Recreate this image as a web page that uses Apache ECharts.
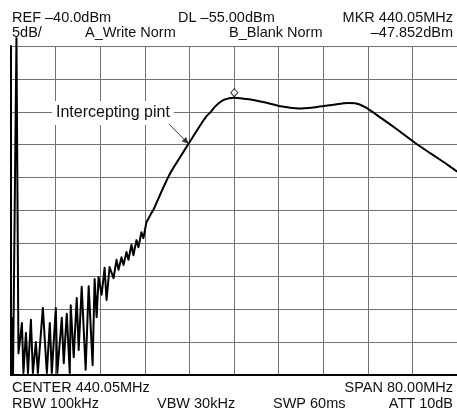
<!DOCTYPE html>
<html>
<head>
<meta charset="utf-8">
<style>
  html, body { margin: 0; padding: 0; background: #fff; }
  #chart { width: 457px; height: 415px; }
</style>
<script src="https://cdn.jsdelivr.net/npm/echarts@6/dist/echarts.min.js"></script>
</head>
<body>
<div id="chart"></div>
<script>
// 频率 MHz / 电平 dBm
// 低端噪声 + 馈通尖峰（折线）
const noiseFreq = [400.18, 400.36, 400.98, 401.34, 401.96, 402.23, 402.68, 403.04, 403.57, 403.93,
  404.46, 404.82, 405.71, 406.43, 406.96, 407.32, 408.04, 408.30, 409.11, 409.46,
  410.00, 410.54, 410.71, 411.25, 411.79, 412.14, 412.68, 413.39, 413.93, 414.64,
  415.00, 415.36, 415.71, 416.25, 416.79, 417.14, 417.68, 418.39, 418.93, 419.29,
  419.82, 420.18, 420.71, 421.07, 421.61, 421.96, 422.50, 422.86, 423.39, 423.75,
  424.29, 424.64, 425.18, 425.54, 426.07];
const noiseLevel = [-81.2, -90.0, -38.8, -86.7, -82.1, -89.7, -83.6, -89.7, -81.6, -89.7,
  -85.0, -89.7, -79.8, -89.7, -82.1, -89.7, -79.8, -89.7, -81.3, -88.2,
  -80.7, -89.7, -79.4, -87.3, -78.3, -86.2, -76.6, -89.2, -76.5, -88.5,
  -75.4, -81.2, -75.1, -77.8, -73.7, -78.6, -73.6, -75.3, -72.5, -74.0,
  -72.1, -73.3, -71.3, -72.5, -70.2, -71.8, -69.5, -70.6, -68.3, -69.2,
  -66.8, -67.1, -65.4, -64.9, -63.9];
// 滤波器响应（平滑段）
const traceFreq = [426.07, 428.39, 430.18, 431.96, 433.75, 434.95, 435.84, 436.73, 437.91, 439.11,
  440.05, 442.68, 445.66, 448.63, 451.61, 454.59, 457.55, 460.54, 461.73, 463.52,
  466.48, 469.46, 472.45, 475.41, 478.39, 480.05];
const traceLevel = [-63.9, -59.6, -57.1, -54.7, -52.3, -50.8, -50.0, -49.1, -48.3, -47.95,
  -47.85, -48.1, -48.6, -49.2, -49.5, -49.3, -48.97, -48.66, -48.7, -49.3,
  -51.0, -52.8, -54.7, -56.4, -58.1, -59.1];
// 标记点 / 交点注释
const marker = [440.05, -47.852];
const intercept = [431.9, -54.9];

const headerLeft = ['REF \u201340.0dBm', '5dB/'];
const headerMid = [['DL \u201355.00dBm'], ['A_Write Norm', 'B_Blank Norm']];
const headerRight = ['MKR 440.05MHz', '\u201347.852dBm'];
const footer = [['CENTER 440.05MHz', 'SPAN 80.00MHz'], ['RBW 100kHz', 'VBW 30kHz', 'SWP 60ms', 'ATT 10dB']];

const dom = document.getElementById('chart');
const myChart = echarts.init(dom, null, { renderer: 'canvas' });
const font = '"Liberation Sans", Arial, Helvetica, sans-serif';

function txt (s, x, y, align) {
  return {
    type: 'text', x: x, y: y, z: 20,
    style: { text: s, fill: '#111', font: '14.5px ' + font, textAlign: align || 'left', textVerticalAlign: 'middle' }
  };
}

const option = {
  animation: false,
  grid: { left: 11, top: 46, width: 448, height: 329, show: false },
  xAxis: {
    type: 'value', min: 400, max: 480, interval: 8,
    axisLine: { show: true, onZero: false, lineStyle: { color: '#000', width: 2 } },
    axisTick: { show: false }, axisLabel: { show: false },
    splitLine: { show: true, lineStyle: { color: '#707070', width: 1 } }
  },
  yAxis: {
    type: 'value', min: -90, max: -40, interval: 5,
    axisLine: { show: true, onZero: false, lineStyle: { color: '#000', width: 2 } },
    axisTick: { show: false }, axisLabel: { show: false },
    splitLine: { show: true, lineStyle: { color: '#707070', width: 1 } }
  },
  series: [
    {
      type: 'line', clip: false, showSymbol: false, symbol: 'none',
      lineStyle: { color: '#000', width: 2, join: 'round' },
      data: noiseFreq.map((f, i) => [f, noiseLevel[i]])
    },
    {
      type: 'line', clip: false, showSymbol: false, symbol: 'none', smooth: 0.3,
      lineStyle: { color: '#000', width: 2 },
      data: traceFreq.map((f, i) => [f, traceLevel[i]])
    },
    {
      type: 'scatter', symbol: 'diamond', symbolSize: [7, 8], symbolOffset: [0, -5],
      itemStyle: { color: '#fff', borderColor: '#000', borderWidth: 1 },
      data: [marker]
    }
  ]
};
myChart.setOption(option);

// 文字 + 注释箭头
const p = myChart.convertToPixel({ gridIndex: 0 }, intercept);
const sx = p[0] - 20, sy = p[1] - 20;
const ang = Math.atan2(p[1] - sy, p[0] - sx);
const ah = 7, aw = 3;
const bx = p[0] - ah * Math.cos(ang), by = p[1] - ah * Math.sin(ang);
myChart.setOption({
  graphic: [
    txt(headerLeft[0], 12, 18), txt(headerLeft[1], 12, 33),
    txt(headerMid[0][0], 178, 18),
    txt(headerMid[1][0], 85, 33), txt(headerMid[1][1], 229, 33),
    txt(headerRight[0], 453, 18, 'right'), txt(headerRight[1], 453, 33, 'right'),
    txt(footer[0][0], 12, 388), txt(footer[0][1], 453, 388, 'right'),
    txt(footer[1][0], 12, 404), txt(footer[1][1], 157, 404),
    txt(footer[1][2], 273, 404), txt(footer[1][3], 453, 404, 'right'),
    {
      type: 'text', x: 52, y: 113, z: 20,
      style: {
        text: 'Intercepting pint', fill: '#111', font: '16px ' + font,
        textVerticalAlign: 'middle', backgroundColor: '#fff', padding: [4, 4, 4, 4]
      }
    },
    {
      type: 'line', z: 20,
      shape: { x1: sx, y1: sy, x2: bx, y2: by },
      style: { stroke: '#333', lineWidth: 1 }
    },
    {
      type: 'polygon', z: 20,
      shape: { points: [[p[0], p[1]],
        [bx + aw * Math.sin(ang), by - aw * Math.cos(ang)],
        [bx - aw * Math.sin(ang), by + aw * Math.cos(ang)]] },
      style: { fill: '#333' }
    }
  ]
});
</script>
</body>
</html>
